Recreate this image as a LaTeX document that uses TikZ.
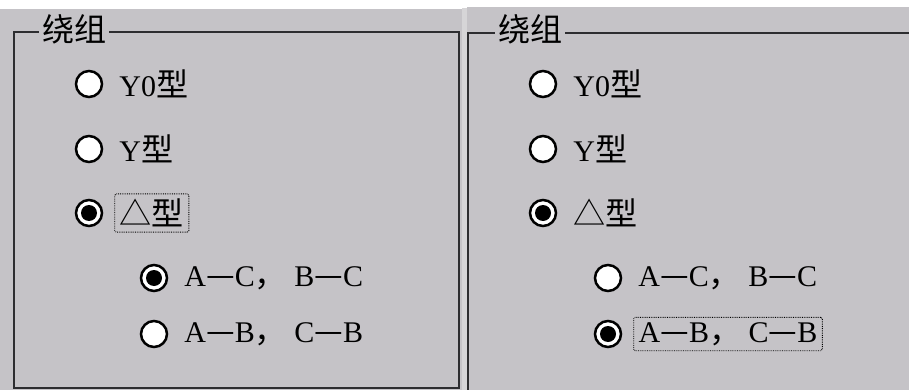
\documentclass[tikz,border=0pt]{standalone}
\usepackage{fontspec}
\setmainfont{Liberation Serif}
\newfontfamily\zhfont[Scale=1.07]{Noto Sans CJK SC}
\usepackage{xcolor}
\usepackage{tikz}
\usetikzlibrary{positioning}

\definecolor{panelgray}{RGB}{197,195,199}
\definecolor{gapgray}{RGB}{214,213,215}
\definecolor{framedark}{RGB}{45,45,48}

\tikzset{
    radio/.style={draw=black, fill=white, circle, line width=2.5pt, minimum size=26pt, inner sep=0pt},
    radioon/.style={radio, path picture={\fill[black] (path picture bounding box.center) circle (8pt);}},
    choice/.style={inner sep=5pt, font=\fontsize{30}{32}\selectfont},
    focus/.style={draw=black, densely dotted, line width=0.8pt, rounded corners=1.5pt},
    frameline/.style={draw=framedark, line width=2.5pt},
    grouptitle/.style={fill=panelgray, inner sep=3pt, font=\fontsize{30}{32}\selectfont}
}

\begin{document}
\begin{tikzpicture}[x=1pt, y=-1pt]
    \useasboundingbox (0,0) rectangle (909,390);
    % Background
    \fill[white] (0,0) rectangle (909,390);
    \fill[panelgray] (0,9) rectangle (462,390);
    \fill[gapgray] (462,8) rectangle (467,390);
    \fill[panelgray] (467,7) rectangle (909,390);

    % Group boxes
    \draw[frameline] (14,32) rectangle (459,388);
    \draw[frameline] (468,33) rectangle (930,410);
    \node[grouptitle, anchor=west] (LT) at (39,29) {\zhfont 绕组};
    \node[grouptitle, anchor=west] (RT) at (495,29) {\zhfont 绕组};

    % Left panel
    \node[radio] (L1) at (89,84) {};
    \node[radio] (L2) at (89,149) {};
    \node[radioon] (L3) at (89,213) {};
    \node[radioon] (L4) at (154,278) {};
    \node[radio] (L5) at (154,334) {};
    \node[choice, right=11pt of L1] (L1t) {Y0{\zhfont 型}};
    \node[choice, right=11pt of L2] (L2t) {Y{\zhfont 型}};
    \node[choice, focus, right=11pt of L3] (L3t) {\zhfont △型};
    \node[choice, right=11pt of L4] (L4t) {A{\zhfont —}C{\zhfont ，} B{\zhfont —}C};
    \node[choice, right=11pt of L5] (L5t) {A{\zhfont —}B{\zhfont ，} C{\zhfont —}B};

    % Right panel
    \node[radio] (R1) at (543,84) {};
    \node[radio] (R2) at (543,149) {};
    \node[radioon] (R3) at (543,213) {};
    \node[radio] (R4) at (608,278) {};
    \node[radioon] (R5) at (608,334) {};
    \node[choice, right=11pt of R1] (R1t) {Y0{\zhfont 型}};
    \node[choice, right=11pt of R2] (R2t) {Y{\zhfont 型}};
    \node[choice, right=11pt of R3] (R3t) {\zhfont △型};
    \node[choice, right=11pt of R4] (R4t) {A{\zhfont —}C{\zhfont ，} B{\zhfont —}C};
    \node[choice, focus, right=11pt of R5] (R5t) {A{\zhfont —}B{\zhfont ，} C{\zhfont —}B};
\end{tikzpicture}
\end{document}
